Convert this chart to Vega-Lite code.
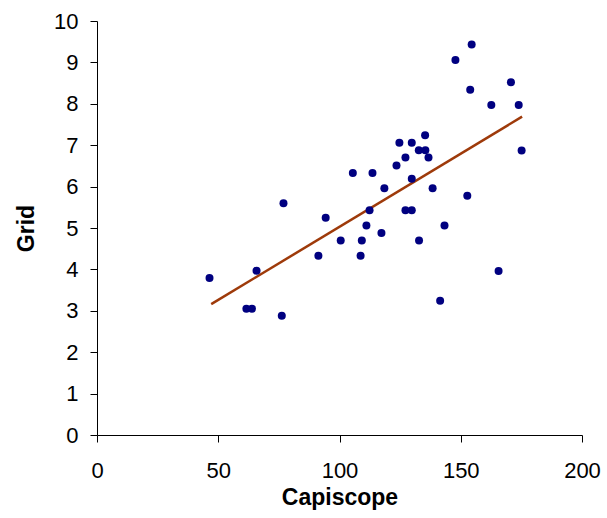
{
  "$schema": "https://vega.github.io/schema/vega-lite/v6.json",
  "width": 485,
  "height": 414,
  "autosize": {"type": "none"},
  "padding": {"left": 97, "top": 21, "right": 25, "bottom": 83},
  "background": "white",
  "config": {
    "view": {"stroke": null},
    "font": "Liberation Sans",
    "axis": {
      "grid": false,
      "domainColor": "black",
      "tickColor": "black",
      "labelColor": "black",
      "titleColor": "black",
      "labelFont": "Liberation Sans",
      "titleFont": "Liberation Sans",
      "labelFontSize": 22,
      "titleFontSize": 23,
      "titleFontWeight": "bold",
      "tickSize": 7,
      "domainWidth": 1,
      "tickWidth": 1
    }
  },
  "datasets": {
    "points": [
      {"Capiscope": 46.4, "Grid": 3.79},
      {"Capiscope": 61.6, "Grid": 3.05},
      {"Capiscope": 63.9, "Grid": 3.05},
      {"Capiscope": 65.8, "Grid": 3.97},
      {"Capiscope": 76.2, "Grid": 2.88},
      {"Capiscope": 76.9, "Grid": 5.6},
      {"Capiscope": 91.3, "Grid": 4.33},
      {"Capiscope": 94.3, "Grid": 5.25},
      {"Capiscope": 100.5, "Grid": 4.7},
      {"Capiscope": 105.5, "Grid": 6.33},
      {"Capiscope": 108.7, "Grid": 4.33},
      {"Capiscope": 109.2, "Grid": 4.7},
      {"Capiscope": 111.1, "Grid": 5.06},
      {"Capiscope": 112.4, "Grid": 5.43},
      {"Capiscope": 113.6, "Grid": 6.33},
      {"Capiscope": 117.3, "Grid": 4.88},
      {"Capiscope": 118.5, "Grid": 5.96},
      {"Capiscope": 123.5, "Grid": 6.51},
      {"Capiscope": 124.7, "Grid": 7.06},
      {"Capiscope": 127.2, "Grid": 6.7},
      {"Capiscope": 127.2, "Grid": 5.43},
      {"Capiscope": 129.8, "Grid": 5.43},
      {"Capiscope": 129.8, "Grid": 7.06},
      {"Capiscope": 129.8, "Grid": 6.19},
      {"Capiscope": 132.8, "Grid": 4.7},
      {"Capiscope": 132.7, "Grid": 6.88},
      {"Capiscope": 135.3, "Grid": 7.24},
      {"Capiscope": 135.4, "Grid": 6.88},
      {"Capiscope": 136.7, "Grid": 6.7},
      {"Capiscope": 138.4, "Grid": 5.96},
      {"Capiscope": 143.3, "Grid": 5.06},
      {"Capiscope": 141.5, "Grid": 3.24},
      {"Capiscope": 147.8, "Grid": 9.06},
      {"Capiscope": 154.5, "Grid": 9.43},
      {"Capiscope": 152.7, "Grid": 5.78},
      {"Capiscope": 153.9, "Grid": 8.34},
      {"Capiscope": 165.6, "Grid": 3.96},
      {"Capiscope": 162.6, "Grid": 7.97},
      {"Capiscope": 170.7, "Grid": 8.52},
      {"Capiscope": 173.9, "Grid": 7.97},
      {"Capiscope": 175.1, "Grid": 6.87}
    ],
    "trend": [
      {"Capiscope": 47.1, "Grid": 3.16},
      {"Capiscope": 175.3, "Grid": 7.69}
    ]
  },
  "layer": [
    {
      "data": {"name": "trend"},
      "mark": {"type": "line", "color": "#9E3A0A", "strokeWidth": 2.5},
      "encoding": {
        "x": {"field": "Capiscope", "type": "quantitative"},
        "y": {"field": "Grid", "type": "quantitative"}
      }
    },
    {
      "data": {"name": "points"},
      "mark": {"type": "circle", "color": "#000080", "opacity": 1, "size": 64},
      "encoding": {
        "x": {
          "field": "Capiscope", "type": "quantitative",
          "scale": {"domain": [0, 200], "nice": false, "zero": false},
          "axis": {"values": [0, 50, 100, 150, 200], "title": "Capiscope", "labelPadding": 18, "titlePadding": 5, "labelFlush": false}
        },
        "y": {
          "field": "Grid", "type": "quantitative",
          "scale": {"domain": [0, 10], "nice": false, "zero": false},
          "axis": {"values": [0, 1, 2, 3, 4, 5, 6, 7, 8, 9, 10], "title": "Grid", "labelPadding": 12, "titlePadding": 15, "labelFlush": false}
        }
      }
    }
  ]
}
